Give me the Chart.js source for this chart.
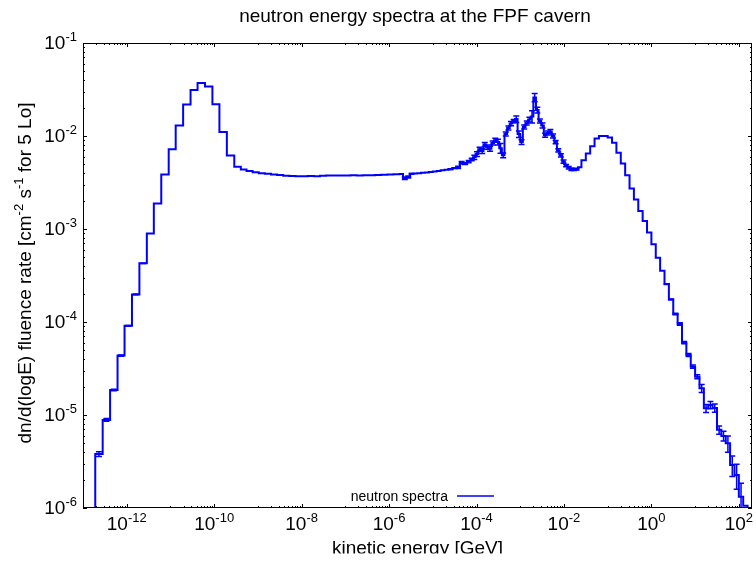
<!DOCTYPE html>
<html lang="en">
<head>
<meta charset="utf-8">
<title>neutron energy spectra at the FPF cavern</title>
<script src="https://cdn.jsdelivr.net/npm/chart.js@4.4.1/dist/chart.umd.min.js"></script>
<style>
  html, body { margin: 0; padding: 0; background: #fff; }
  #wrap { position: relative; width: 756px; height: 563px; }
</style>
</head>
<body>
<div id="wrap"><canvas id="spectrum-chart" width="756" height="563"></canvas></div>
<script>
  // bin edges as log10(E / GeV)
  const binEdgesLog = [
    -12.72, -12.55, -12.38, -12.21, -12.05, -11.88, -11.71, -11.54, -11.38, -11.21, -11.04,
    -10.88, -10.71, -10.54, -10.38, -10.21, -10.04, -9.88, -9.71, -9.54, -9.39,
    -9.26, -9.12, -8.98, -8.84, -8.70, -8.56, -8.42, -8.28, -8.14, -8.00, -7.86, -7.72,
    -7.58, -7.44, -7.30, -7.16, -7.02, -6.88, -6.74, -6.60, -6.46, -6.32, -6.18, -6.04,
    -5.90, -5.76, -5.68, -5.60, -5.52, -5.45, -5.36, -5.27, -5.18, -5.09, -5.00, -4.91,
    -4.82, -4.73, -4.64, -4.55, -4.46, -4.38, -4.30, -4.22,
    -4.14, -4.08, -4.02, -3.96, -3.90, -3.84, -3.78, -3.72, -3.66, -3.60, -3.54, -3.48,
    -3.42, -3.36, -3.30, -3.24, -3.18, -3.12, -3.06, -3.00, -2.94, -2.88, -2.82, -2.76,
    -2.70, -2.64, -2.58, -2.52, -2.46, -2.40, -2.34, -2.28, -2.22, -2.16, -2.10, -2.04,
    -1.98, -1.92, -1.86, -1.80, -1.74, -1.68,
    -1.60, -1.50, -1.40, -1.30, -1.20, -1.10, -1.00, -0.90, -0.80, -0.70, -0.60, -0.50,
    -0.40, -0.30, -0.20, -0.10, 0.00, 0.10, 0.20, 0.30, 0.40, 0.50, 0.60, 0.70, 0.80,
    0.90, 1.00, 1.10, 1.20, 1.30, 1.40, 1.50, 1.60, 1.70, 1.80, 1.90, 2.00, 2.10, 2.20
  ];

  // dn/d(logE) per bin [cm^-2 s^-1 for 5 Lo]
  const fluence = [
    // thermal peak
    3.8e-6, 8.85e-6, 1.86e-5, 4.35e-5, 9.1e-5, 1.98e-4, 4.27e-4, 8.97e-4, 1.88e-3, 3.86e-3,
    7.2e-3, 1.30e-2, 2.18e-2, 3.13e-2, 3.72e-2, 3.40e-2, 2.20e-2, 1.107e-2, 6.17e-3, 4.66e-3,
    4.36e-3,
    // epithermal plateau
    4.20e-3, 4.08e-3, 3.98e-3, 3.93e-3, 3.86e-3, 3.80e-3, 3.74e-3, 3.71e-3, 3.70e-3, 3.69e-3,
    3.71e-3, 3.70e-3, 3.74e-3, 3.76e-3, 3.75e-3, 3.77e-3, 3.76e-3, 3.78e-3, 3.77e-3, 3.79e-3,
    3.78e-3, 3.80e-3, 3.83e-3, 3.86e-3, 3.88e-3, 3.90e-3, 3.52e-3, 3.62e-3, 3.92e-3, 3.94e-3,
    3.98e-3, 4.02e-3, 4.06e-3, 4.10e-3, 4.15e-3, 4.20e-3, 4.28e-3, 4.33e-3, 4.40e-3, 4.52e-3,
    4.60e-3, 5.15e-3, 5.05e-3, 5.30e-3,
    // resonance region
    5.6e-3, 5.9e-3, 6.4e-3, 7.2e-3, 6.9e-3, 8.1e-3, 7.6e-3, 7.3e-3, 8.4e-3, 9.0e-3,
    8.6e-3, 7.4e-3, 6.2e-3, 1.05e-2, 1.22e-2, 1.36e-2, 1.45e-2, 1.52e-2, 1.05e-2, 8.6e-3,
    1.25e-2, 1.38e-2, 1.50e-2, 1.62e-2, 2.6e-2, 1.9e-2, 1.45e-2, 1.30e-2, 1.02e-2, 1.08e-2,
    1.12e-2, 1.00e-2, 8.6e-3, 7.0e-3, 6.2e-3, 5.3e-3, 4.8e-3, 4.55e-3, 4.4e-3, 4.35e-3,
    4.4e-3, 4.6e-3,
    // high-energy tail
    5.50e-3, 6.49e-3, 7.77e-3, 9.40e-3, 1.00e-2, 1.00e-2, 9.64e-3, 8.44e-3, 6.61e-3, 5.07e-3,
    3.79e-3, 2.73e-3, 2.08e-3, 1.56e-3, 1.22e-3, 9.19e-4, 6.84e-4, 4.91e-4, 3.56e-4, 2.56e-4,
    1.75e-4, 1.22e-4, 9.52e-5, 6.0e-5, 4.42e-5, 3.31e-5, 2.58e-5, 1.94e-5, 1.18e-5, 1.28e-5,
    1.19e-5, 6.92e-6, 5.96e-6, 4.97e-6, 2.9e-6, 2.27e-6, 1.32e-6, 1.06e-6
  ];

  // relative statistical error per bin
  const fluenceRelErr = [
    0.06, 0.035, 0.02, 0.015, 0.01, 0.008, 0.006, 0, 0, 0,
    0, 0, 0, 0, 0, 0, 0, 0, 0, 0,
    0,
    0, 0, 0, 0, 0, 0, 0, 0, 0, 0,
    0, 0, 0, 0, 0, 0, 0, 0, 0, 0,
    0, 0, 0, 0, 0, 0, 0.03, 0.025, 0.01, 0,
    0, 0, 0, 0, 0, 0, 0, 0, 0.01, 0.01,
    0.03, 0.03, 0.02,
    0.03, 0.03, 0.05, 0.06, 0.05, 0.06, 0.05, 0.05, 0.06, 0.05,
    0.05, 0.07, 0.12, 0.06, 0.05, 0.05, 0.05, 0.04, 0.08, 0.08,
    0.06, 0.05, 0.05, 0.06, 0.15, 0.10, 0.07, 0.05, 0.06, 0.05,
    0.05, 0.05, 0.05, 0.04, 0.04, 0.04, 0.04, 0.03, 0.03, 0.03,
    0.02, 0.02,
    0, 0, 0, 0, 0, 0, 0, 0, 0, 0,
    0, 0, 0, 0, 0, 0, 0, 0, 0, 0,
    0.01, 0.01, 0.02, 0.03, 0.03, 0.04, 0.04, 0.05, 0.10, 0.10,
    0.09, 0.10, 0.10, 0.12, 0.20, 0.25, 0.30, 0.40
  ];

  const xMajorExps = [-12, -10, -8, -6, -4, -2, 0, 2];
  const xMinorDecades = [-13, -11, -9, -7, -5, -3, -1, 1];
  const yMajorExps = [-6, -5, -4, -3, -2, -1];

  const X_MIN = 1e-13, X_MAX = 2e2;
  const Y_MIN = 1e-6, Y_MAX = 1e-1;
  const FLOOR = 1e-9; // below the axis, used for the drop at both ends
  const BLUE = '#0000ff';
  const FONT = '"Liberation Sans", Arial, sans-serif';

  // histogram outline points (stepped line)
  const stepPoints = [{ x: 10 ** binEdgesLog[0], y: FLOOR }];
  fluence.forEach((v, i) => stepPoints.push({ x: 10 ** binEdgesLog[i], y: v }));
  const lastEdge = 10 ** binEdgesLog[binEdgesLog.length - 1];
  stepPoints.push({ x: lastEdge, y: fluence[fluence.length - 1] });
  stepPoints.push({ x: lastEdge, y: FLOOR });

  // 10^n label with a raised exponent
  function drawPow10(ctx, exp, x, baseY, align) {
    const base = '10';
    const sup = String(exp);
    ctx.font = '19px ' + FONT;
    const wb = ctx.measureText(base).width;
    ctx.font = '13px ' + FONT;
    const ws = ctx.measureText(sup).width;
    const left = align === 'right' ? x - wb - ws : x - (wb + ws) / 2;
    ctx.textAlign = 'left';
    ctx.textBaseline = 'alphabetic';
    ctx.font = '19px ' + FONT;
    ctx.fillText(base, left, baseY);
    ctx.font = '13px ' + FONT;
    ctx.fillText(sup, left + wb, baseY - 8);
  }

  // text made of plain and superscript pieces, centred on cx
  function drawRich(ctx, parts, cx, baseY) {
    let total = 0;
    parts.forEach(p => {
      ctx.font = (p.sup ? '13px ' : '19px ') + FONT;
      p.w = ctx.measureText(p.t).width;
      total += p.w;
    });
    let x = cx - total / 2;
    ctx.textAlign = 'left';
    ctx.textBaseline = 'alphabetic';
    parts.forEach(p => {
      ctx.font = (p.sup ? '13px ' : '19px ') + FONT;
      ctx.fillText(p.t, x, p.sup ? baseY - 8 : baseY);
      x += p.w;
    });
  }

  const errorBars = {
    id: 'errorBars',
    afterDatasetsDraw(chart) {
      const { ctx, chartArea: a, scales: { x, y } } = chart;
      ctx.save();
      ctx.beginPath();
      ctx.rect(a.left, a.top, a.right - a.left, a.bottom - a.top);
      ctx.clip();
      ctx.strokeStyle = BLUE;
      ctx.lineWidth = 1.5;
      fluence.forEach((v, i) => {
        const e = fluenceRelErr[i];
        if (!e) return;
        const cx = x.getPixelForValue(10 ** ((binEdgesLog[i] + binEdgesLog[i + 1]) / 2));
        const yHi = y.getPixelForValue(v * (1 + e));
        const yLo = y.getPixelForValue(v * (1 - e));
        ctx.beginPath();
        ctx.moveTo(cx, yHi); ctx.lineTo(cx, yLo);
        ctx.moveTo(cx - 3, yHi); ctx.lineTo(cx + 3, yHi);
        ctx.moveTo(cx - 3, yLo); ctx.lineTo(cx + 3, yLo);
        ctx.stroke();
      });
      ctx.restore();
    }
  };

  // frame, inward ticks on all sides, tick labels, titles and legend
  const axesDecor = {
    id: 'axesDecor',
    afterDraw(chart) {
      const { ctx, chartArea: a, scales: { x, y } } = chart;
      const L = a.left, R = a.right, T = a.top, B = a.bottom;
      ctx.save();
      ctx.strokeStyle = '#000';
      ctx.lineWidth = 1;

      const tickX = (px, len) => {
        px = Math.round(px) + 0.5;
        ctx.moveTo(px, B); ctx.lineTo(px, B - len);
        ctx.moveTo(px, T); ctx.lineTo(px, T + len);
      };
      const tickY = (py, len) => {
        py = Math.round(py) + 0.5;
        ctx.moveTo(L, py); ctx.lineTo(L + len, py);
        ctx.moveTo(R, py); ctx.lineTo(R - len, py);
      };

      ctx.beginPath();
      xMajorExps.forEach(k => tickX(x.getPixelForValue(10 ** k), 4));
      xMinorDecades.forEach(k => {
        for (let m = 1; m <= 9; m++) {
          const v = m * 10 ** k;
          if (v > X_MIN && v < X_MAX) tickX(x.getPixelForValue(v), 2);
        }
      });
      yMajorExps.forEach(k => tickY(y.getPixelForValue(10 ** k), 4));
      yMajorExps.forEach(k => {
        for (let m = 2; m <= 9; m++) {
          const v = m * 10 ** k;
          if (v < Y_MAX) tickY(y.getPixelForValue(v), 2);
        }
      });
      ctx.stroke();

      ctx.strokeRect(L + 0.5, T + 0.5, R - L - 1, B - T - 1);

      ctx.fillStyle = '#000';
      xMajorExps.forEach(k => drawPow10(ctx, k, x.getPixelForValue(10 ** k), B + 22, 'center'));
      yMajorExps.forEach(k => drawPow10(ctx, k, L - 6, y.getPixelForValue(10 ** k) + 6, 'right'));

      // title
      ctx.font = '19px ' + FONT;
      ctx.textAlign = 'center';
      ctx.textBaseline = 'alphabetic';
      ctx.fillText('neutron energy spectra at the FPF cavern', 415, 22);

      // x axis title, bottom of the figure cuts through its descenders
      ctx.save();
      ctx.beginPath();
      ctx.rect(0, 530, chart.width, 23.5);
      ctx.clip();
      ctx.fillText('kinetic energy [GeV]', (L + R) / 2, 554);
      ctx.restore();

      // y axis title
      ctx.save();
      ctx.translate(31, 273);
      ctx.rotate(-Math.PI / 2);
      drawRich(ctx, [
        { t: 'dn/d(logE) fluence rate [cm' },
        { t: '-2', sup: true },
        { t: ' s' },
        { t: '-1', sup: true },
        { t: ' for 5 Lo]' }
      ], 0, 0);
      ctx.restore();

      // legend
      ctx.font = '14px ' + FONT;
      ctx.textAlign = 'right';
      ctx.fillText('neutron spectra', 448, 501);
      ctx.strokeStyle = BLUE;
      ctx.lineWidth = 1.5;
      ctx.beginPath();
      ctx.moveTo(457, 496);
      ctx.lineTo(494, 496);
      ctx.stroke();

      ctx.restore();
    }
  };

  const spectrumConfig = {
    type: 'line',
    data: {
      datasets: [{
        label: 'neutron spectra',
        data: stepPoints,
        stepped: true,
        borderColor: BLUE,
        backgroundColor: BLUE,
        borderWidth: 2,
        borderJoinStyle: 'miter',
        pointRadius: 0,
        fill: false,
        clip: 0
      }]
    },
    options: {
      responsive: false,
      animation: false,
      devicePixelRatio: 1,
      layout: { padding: { left: 83, right: 4, top: 43, bottom: 55 } },
      plugins: {
        legend: { display: false },
        tooltip: { enabled: false },
        title: { display: false }
      },
      scales: {
        x: {
          type: 'logarithmic',
          min: X_MIN,
          max: X_MAX,
          ticks: { display: false },
          grid: { display: false },
          border: { display: false },
          afterFit(s) { s.height = 0; }
        },
        y: {
          type: 'logarithmic',
          min: Y_MIN,
          max: Y_MAX,
          ticks: { display: false },
          grid: { display: false },
          border: { display: false },
          afterFit(s) { s.width = 0; }
        }
      }
    },
    plugins: [errorBars, axesDecor]
  };

  window.spectrumChart = new Chart(document.getElementById('spectrum-chart').getContext('2d'), spectrumConfig);
</script>
</body>
</html>
